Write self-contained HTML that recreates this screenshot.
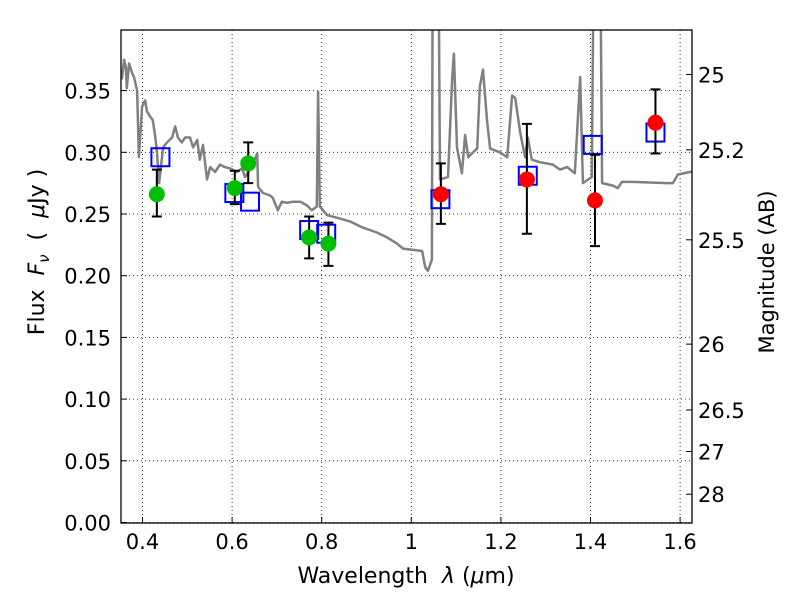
<!DOCTYPE html>
<html><head><meta charset="utf-8"><style>
html,body{margin:0;padding:0;background:#fff;}
svg text{font-family:"DejaVu Sans","Liberation Sans",sans-serif;white-space:pre;}
</style></head><body>
<svg id="chart" width="800" height="600" xmlns="http://www.w3.org/2000/svg" xml:space="preserve">
<rect width="800" height="600" fill="#fff"/>
<defs><clipPath id="clip"><rect x="121" y="30" width="571" height="493"/></clipPath></defs>
<g id="grid"></g>
<g id="spec" clip-path="url(#clip)"></g>
<g id="marks"></g>
<rect x="121" y="30" width="571" height="493" fill="none" stroke="#000" stroke-width="1.3"/>
<g id="axes"></g>
<text x="406" y="583" font-size="22" text-anchor="middle">Wavelength  <tspan font-style="italic">λ</tspan> (<tspan font-style="italic">μ</tspan>m)</text>
<text transform="translate(44,252) rotate(-90)" font-size="22" text-anchor="middle">Flux  <tspan font-style="italic">F</tspan><tspan font-style="italic" font-size="15" dy="5">ν</tspan><tspan dy="-5">  (  </tspan><tspan font-style="italic">μ</tspan>Jy )</text>
<text transform="translate(774,272) rotate(-90)" font-size="21" text-anchor="middle">Magnitude (AB)</text>
</svg>
<script>
const xTicks=[0.4,0.6,0.8,1.0,1.2,1.4,1.6];
const xTickLabels=["0.4","0.6","0.8","1","1.2","1.4","1.6"];
const yTicks=[0,0.05,0.1,0.15,0.2,0.25,0.3,0.35];
const yTickLabels=["0.00","0.05","0.10","0.15","0.20","0.25","0.30","0.35"];
const magTicks=[25,25.2,25.5,26,26.5,27,28];
const magTickLabels=["25","25.2","25.5","26","26.5","27","28"];
const specWl=[0.354,0.359,0.363,0.365,0.370,0.377,0.381,0.388,0.392,0.399,0.406,0.410,0.417,0.423,0.428,0.432,0.437,0.441,0.446,0.455,0.466,0.473,0.479,0.488,0.495,0.506,0.513,0.522,0.528,0.535,0.544,0.551,0.562,0.573,0.584,0.595,0.611,0.622,0.629,0.640,0.656,0.658,0.669,0.685,0.691,0.702,0.711,0.723,0.736,0.752,0.767,0.778,0.789,0.792,0.796,0.812,0.834,0.863,0.892,0.923,0.946,0.968,0.982,1.024,1.031,1.037,1.046,1.048,1.060,1.064,1.082,1.091,1.095,1.102,1.113,1.120,1.127,1.138,1.147,1.153,1.160,1.169,1.176,1.198,1.214,1.225,1.232,1.243,1.254,1.260,1.269,1.287,1.316,1.332,1.348,1.365,1.377,1.383,1.403,1.408,1.421,1.426,1.450,1.461,1.470,1.495,1.571,1.584,1.595,1.622,1.635];
const specFlux=[0.359,0.375,0.369,0.352,0.372,0.364,0.361,0.350,0.296,0.337,0.342,0.333,0.329,0.326,0.314,0.302,0.275,0.288,0.304,0.308,0.312,0.321,0.312,0.308,0.312,0.312,0.304,0.310,0.294,0.306,0.278,0.288,0.284,0.290,0.288,0.287,0.284,0.287,0.280,0.286,0.299,0.272,0.267,0.265,0.263,0.253,0.260,0.259,0.260,0.260,0.257,0.253,0.256,0.349,0.256,0.249,0.247,0.244,0.239,0.235,0.231,0.226,0.222,0.220,0.207,0.204,0.213,0.5,0.5,0.278,0.280,0.359,0.380,0.304,0.283,0.314,0.296,0.300,0.303,0.353,0.367,0.326,0.303,0.300,0.296,0.346,0.344,0.316,0.296,0.312,0.294,0.292,0.290,0.286,0.288,0.283,0.361,0.275,0.280,0.5,0.5,0.275,0.273,0.271,0.276,0.276,0.275,0.275,0.282,0.284,0.285];
const modelWl=[0.44,0.605,0.64,0.772,0.81,1.065,1.26,1.405,1.545];
const modelFlux=[0.296,0.267,0.260,0.237,0.234,0.262,0.281,0.306,0.316];
const optWl=[0.432,0.606,0.636,0.772,0.815];
const optFlux=[0.266,0.271,0.291,0.231,0.226];
const optLo=[0.248,0.258,0.275,0.214,0.208];
const optHi=[0.286,0.285,0.308,0.248,0.243];
const irWl=[1.066,1.258,1.41,1.545];
const irFlux=[0.266,0.278,0.261,0.324];
const irLo=[0.242,0.234,0.224,0.299];
const irHi=[0.291,0.323,0.298,0.351];

const NS="http://www.w3.org/2000/svg";
const X=w=>142.5+(w-0.4)*448;
const Y=f=>522.5-f*1234;
const magToFlux=m=>Math.pow(10,(23.9-m)/2.5);
function mk(tag,attrs,parent){const e=document.createElementNS(NS,tag);for(const k in attrs)e.setAttribute(k,attrs[k]);parent.appendChild(e);return e;}
const grid=document.getElementById('grid'),axes=document.getElementById('axes'),spec=document.getElementById('spec'),marks=document.getElementById('marks');
xTicks.forEach((t,i)=>{
  const g=mk('line',{x1:X(t),x2:X(t),y1:30,y2:523,stroke:'#000','stroke-width':0.8,'stroke-dasharray':'1,3'},grid);
  
  
  const tk=mk('line',{x1:X(t),x2:X(t),y1:523,y2:517,stroke:'#000'},axes);
  
  
  const tx=mk('text',{x:X(t),y:549,'font-size':21,'text-anchor':'middle'},axes);
  tx.textContent=xTickLabels[i];
  
  
});
yTicks.forEach((t,i)=>{
  const g=mk('line',{x1:121,x2:692,y1:Y(t),y2:Y(t),stroke:'#000','stroke-width':0.8,'stroke-dasharray':'1,3'},grid);
  
  
  const tk=mk('line',{x1:121,x2:127,y1:Y(t),y2:Y(t),stroke:'#000'},axes);
  
  
  const tx=mk('text',{x:111,y:Y(t)+8,'font-size':21,'text-anchor':'end'},axes);
  tx.textContent=yTickLabels[i];
  
  
});
magTicks.forEach((m,i)=>{
  const y=Y(magToFlux(m));
  const tk=mk('line',{x1:686,x2:692,y1:y,y2:y,stroke:'#000'},axes);
  
  
  const tx=mk('text',{x:698,y:y+8,'font-size':21},axes);
  tx.textContent=magTickLabels[i];
  
  
});
const d=specWl.map((w,i)=>(i?'L':'M')+X(w).toFixed(1)+','+Y(specFlux[i]).toFixed(1)).join('');
const sp=mk('path',{d:d,fill:'none',stroke:'#808080','stroke-width':2.5,'stroke-linejoin':'round'},spec);


modelWl.forEach((w,i)=>{
  const r=mk('rect',{x:X(w)-9,y:Y(modelFlux[i])-9,width:18,height:18,fill:'none',stroke:'#0000ff','stroke-width':2},marks);
  
  
});
function pts(ws,fs,lo,hi,col,name){
  ws.forEach((w,i)=>{
    const x=X(w);
    const e=mk('path',{d:`M${x},${Y(lo[i])}L${x},${Y(hi[i])}M${x-5},${Y(lo[i])}L${x+5},${Y(lo[i])}M${x-5},${Y(hi[i])}L${x+5},${Y(hi[i])}`,stroke:'#000','stroke-width':2,fill:'none'},marks);
    
    
  });
  ws.forEach((w,i)=>{
    const c=mk('circle',{cx:X(w),cy:Y(fs[i]),r:8,fill:col},marks);
    
    
  });
}
pts(optWl,optFlux,optLo,optHi,'#00bf00','optical-flux-point');
pts(irWl,irFlux,irLo,irHi,'#ff0000','infrared-flux-point');
</script>
</body></html>
